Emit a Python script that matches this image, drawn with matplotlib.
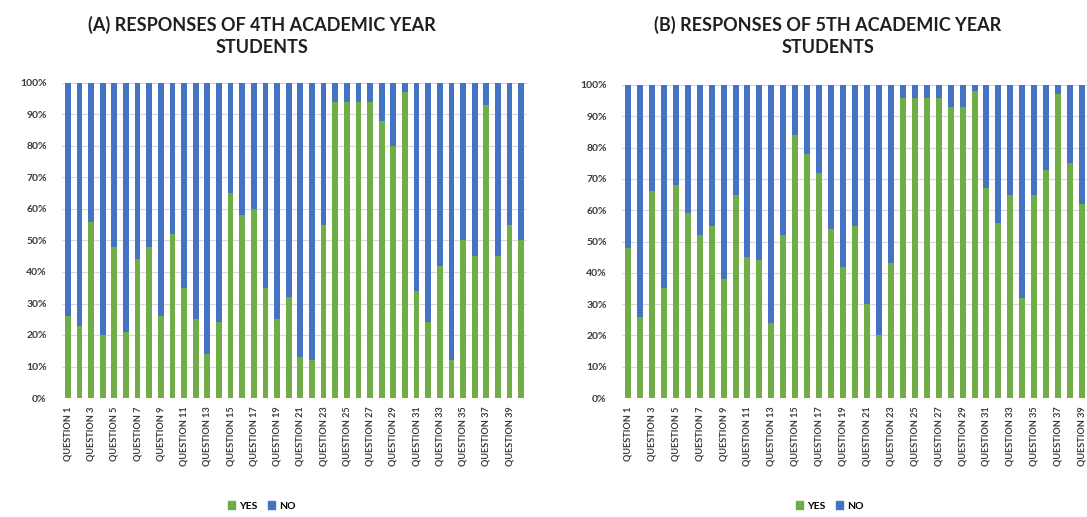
import matplotlib
matplotlib.use("Agg")
import matplotlib.pyplot as plt
from matplotlib.ticker import FuncFormatter, MultipleLocator
from matplotlib.patches import Patch

# ---------------- data ----------------
questions_a = [f"QUESTION {i}" for i in range(1, 41)]
yes_a = [26, 23, 56, 20, 48, 21, 44, 48, 26, 52,
         35, 25, 14, 24, 65, 58, 60, 35, 25, 32,
         13, 12, 55, 94, 94, 94, 94, 88, 80, 97,
         34, 24, 42, 12, 50, 45, 93, 45, 55, 50]
no_a = [100 - v for v in yes_a]

# panel B is cropped at the right edge in the reference: 39 bars visible
questions_b = [f"QUESTION {i}" for i in range(1, 40)]
yes_b = [48, 26, 66, 35, 68, 59, 52, 55, 38, 65,
         45, 44, 24, 52, 84, 78, 72, 54, 42, 55,
         30, 20, 43, 96, 96, 96, 96, 93, 93, 98,
         67, 56, 65, 32, 65, 73, 97, 75, 62]
no_b = [100 - v for v in yes_b]

title_a = "(A) RESPONSES OF 4TH ACADEMIC YEAR\nSTUDENTS"
title_b = "(B) RESPONSES OF 5TH ACADEMIC YEAR\nSTUDENTS"
series_names = ["YES", "NO"]

GREEN = "#70AD47"
BLUE = "#4472C4"
GRID = "#D9D9D9"
TXT = "#3A3A3A"
FONT = "Lato"

W, H = 1087, 517
fig = plt.figure(figsize=(W / 100, H / 100), dpi=100)


def px_axes(x0, x1, y0, y1):
    return fig.add_axes([x0 / W, 1 - y1 / H, (x1 - x0) / W, (y1 - y0) / H])


def draw_panel(ax, cats, yes, no, nslots):
    x = list(range(len(cats)))
    ax.bar(x, yes, width=0.5, color=GREEN, zorder=3)
    ax.bar(x, no, width=0.5, bottom=yes, color=BLUE, zorder=3)
    ax.set_xlim(-0.5, nslots - 0.5)
    ax.set_ylim(0, 100)
    ax.yaxis.set_major_locator(MultipleLocator(10))
    ax.yaxis.set_major_formatter(FuncFormatter(lambda v, p: f"{int(v)}%"))
    ax.grid(axis="y", color=GRID, linewidth=0.8, zorder=0)
    ax.set_xticks(x[::2])
    ax.set_xticklabels(cats[::2], rotation=90, fontsize=6.6,
                       fontfamily=FONT, fontweight="bold", color=TXT)
    for lab in ax.get_yticklabels():
        lab.set_fontfamily(FONT)
        lab.set_fontweight("bold")
        lab.set_fontsize(7.5)
        lab.set_color(TXT)
    ax.tick_params(axis="both", length=0, pad=6)
    ax.tick_params(axis="y", pad=11)
    for s in ax.spines.values():
        s.set_visible(False)


ax_a = px_axes(62, 527, 83, 398)
draw_panel(ax_a, questions_a, yes_a, no_a, 40)
ax_b = px_axes(622, 1100, 85, 398)
draw_panel(ax_b, questions_b, yes_b, no_b, 40)

for tx, ttl in [(262, title_a), (828, title_b)]:
    fig.text(tx / W, 1 - 36 / H, ttl, ha="center", va="center",
             fontsize=13, fontweight="bold", fontfamily=FONT,
             color="#1F1F1F", linespacing=1.4)

handles = [Patch(color=GREEN, label=series_names[0]),
           Patch(color=BLUE, label=series_names[1])]
for lx in [262, 830]:
    fig.legend(handles=handles, loc="center", bbox_to_anchor=(lx / W, 1 - 506 / H),
               ncol=2, frameon=False, handlelength=0.7, handleheight=0.7,
               handletextpad=0.4, columnspacing=1.0,
               prop={"family": FONT, "weight": "bold", "size": 7.5})

fig.savefig("out.png", dpi=100, facecolor="white")
